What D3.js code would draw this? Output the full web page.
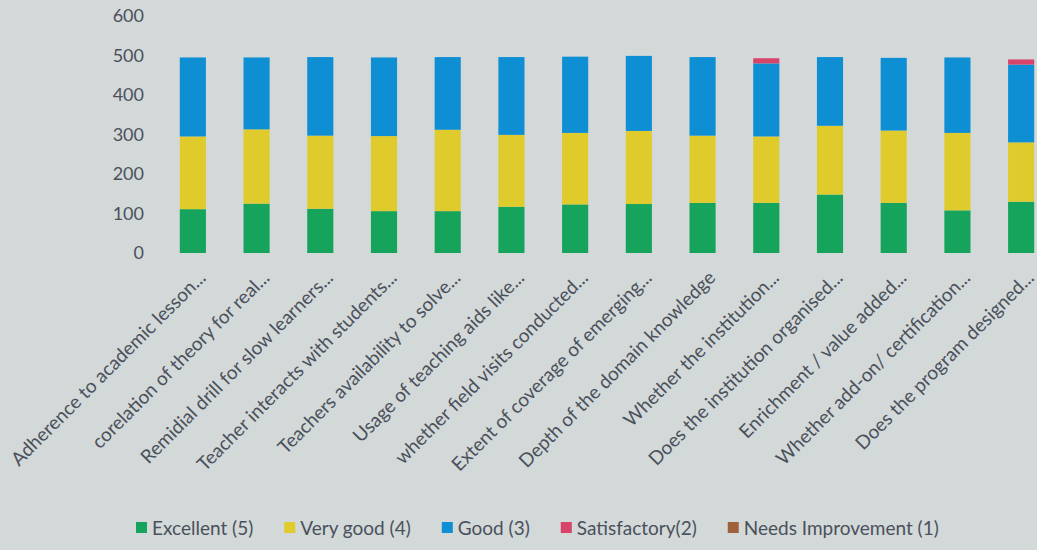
<!DOCTYPE html>
<html>
<head>
<meta charset="utf-8">
<script src="https://cdn.jsdelivr.net/npm/d3@7"></script>
<style>
  html, body { margin: 0; padding: 0; background: #d3d8d9; }
  svg { display: block; }
</style>
</head>
<body>
<svg id="chart" width="1037" height="550"></svg>
<script>
const categories = [
  "Adherence to academic lesson...",
  "corelation of theory for real...",
  "Remidial drill for slow learners...",
  "Teacher interacts with students...",
  "Teachers availability to solve...",
  "Usage of teaching aids like...",
  "whether field visits conducted...",
  "Extent of coverage of emerging...",
  "Depth of the domain knowledge",
  "Whether the institution...",
  "Does the institution organised...",
  "Enrichment / value added...",
  "Whether add-on/ certification...",
  "Does the program designed..."
];
const seriesNames = ["Excellent (5)", "Very good (4)", "Good (3)", "Satisfactory(2)", "Needs Improvement (1)"];
const excellent        = [111, 125, 112, 106, 106, 117, 123, 124, 127, 127, 148, 127, 108, 130];
const veryGood         = [184, 188, 185, 190, 206, 182, 181, 185, 170, 168, 174, 183, 196, 150];
const good             = [200, 182, 199, 199, 184, 197, 193, 190, 199, 185, 174, 184, 191, 197];
const satisfactory     = [  0,   0,   0,   0,   0,   0,   0,   0,   0,  13,   0,   0,   0,  13];
const needsImprovement = [  0,   0,   0,   0,   0,   0,   0,   0,   0,   0,   0,   0,   0,   0];
const yTicks = [0, 100, 200, 300, 400, 500, 600];
const colors = ["#16a35c", "#e0cb2c", "#0f8fd3", "#d8436a", "#a0603c"];

const seriesValues = [excellent, veryGood, good, satisfactory, needsImprovement];
const rows = categories.map((c, i) => {
  const r = { cat: c };
  seriesNames.forEach((s, k) => r[s] = seriesValues[k][i]);
  return r;
});

const svg = d3.select("#chart");
const textColor = "#4a515b";
const font = "Lato, 'Open Sans', sans-serif";

const x = d3.scaleBand().domain(categories).range([161, 1053]).paddingInner(0.59).paddingOuter(0.295);
const y = d3.scaleLinear().domain([0, 600]).range([253, 16]);
const color = d3.scaleOrdinal().domain(seriesNames).range(colors);

const stacked = d3.stack().keys(seriesNames)(rows);

svg.append("g").selectAll("g").data(stacked).join("g")
  .attr("fill", d => color(d.key))
  .selectAll("rect").data(d => d).join("rect")
  .attr("x", d => x(d.data.cat))
  .attr("width", x.bandwidth())
  .attr("y", d => y(d[1]))
  .attr("height", d => y(d[0]) - y(d[1]));

// y axis (labels only)
const yAxis = svg.append("g").attr("transform", "translate(144,0)")
  .call(d3.axisLeft(y).tickValues(yTicks).tickSize(0).tickPadding(0));
yAxis.select(".domain").remove();
yAxis.selectAll("text").attr("fill", textColor).attr("font-size", 18).attr("font-family", font);

// x axis labels rotated
const xAxis = svg.append("g").attr("transform", `translate(0,${y(0)})`)
  .call(d3.axisBottom(x).tickSize(0).tickPadding(0));
xAxis.select(".domain").remove();
xAxis.selectAll("text")
  .attr("fill", textColor).attr("font-size", 19).attr("font-family", font)
  .attr("text-anchor", "end")
  .attr("transform", "translate(14,26) rotate(-45)")
  .attr("dy", "0")
  .attr("y", 0).attr("x", 0);

// legend
const legend = svg.append("g").attr("transform", "translate(136,528)");
let lx = 0;
seriesNames.forEach((s, k) => {
  const g = legend.append("g").attr("transform", `translate(${lx},0)`);
  g.append("rect").attr("x", 0).attr("y", -6).attr("width", 11).attr("height", 11).attr("fill", colors[k]);
  const t = g.append("text").attr("x", 16).attr("y", 0).attr("dy", "0.35em")
    .attr("fill", textColor).attr("font-size", 19).attr("font-family", font).text(s);
  lx += 16 + t.node().getComputedTextLength() + 31;
});
</script>
</body>
</html>
